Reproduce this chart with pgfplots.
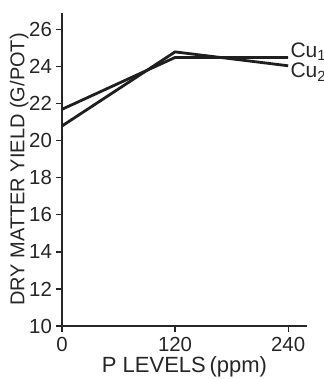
\documentclass[border=0pt]{standalone}
\usepackage{pgfplots}
\pgfplotsset{compat=1.18}
\usepackage{fontspec}
\setmainfont{Liberation Sans}
\begin{document}
\begin{tikzpicture}
\useasboundingbox (0,0) rectangle (161.5pt,189.5pt);
\begin{axis}[
  at={(31pt,26.5pt)}, anchor=south west,
  scale only axis, width=122.5pt, height=156.5pt,
  xmin=0, xmax=260, ymin=10, ymax=26.9,
  axis lines*=left,
  axis line style={line width=0.7pt, color=black!85},
  xtick={0,120,240}, ytick={10,12,...,26},
  tick align=outside, major tick length=3pt,
  tick style={line width=0.6pt, color=black!85},
  /pgf/number format/assume math mode=true,
  ticklabel style={font=\fontsize{10.2}{11}\selectfont, text=black!85},
  xticklabel style={yshift=1pt},
  yticklabel style={xshift=1.5pt},
  xlabel={P LEVELS\,(ppm)}, ylabel={DRY MATTER YIELD (G/POT)},
  xlabel style={font=\fontsize{11}{12}\selectfont, text=black!85, yshift=4.5pt},
  ylabel style={font=\fontsize{10}{11}\selectfont, text=black!85, yshift=-6.5pt},
  clip=false,
]
\addplot[line width=1.4pt, color=black!88] coordinates {(0,21.7) (120,24.5) (240,24.5)};
\addplot[line width=1.4pt, color=black!88] coordinates {(0,20.8) (120,24.8) (240,24.05)};
\node[anchor=west, font=\fontsize{10.5}{11}\selectfont, text=black!85, inner sep=1pt] at (axis cs:240,24.8) {Cu\textsubscript{1}};
\node[anchor=west, font=\fontsize{10.5}{11}\selectfont, text=black!85, inner sep=1pt] at (axis cs:240,23.7) {Cu\textsubscript{2}};
\end{axis}
\end{tikzpicture}
\end{document}
